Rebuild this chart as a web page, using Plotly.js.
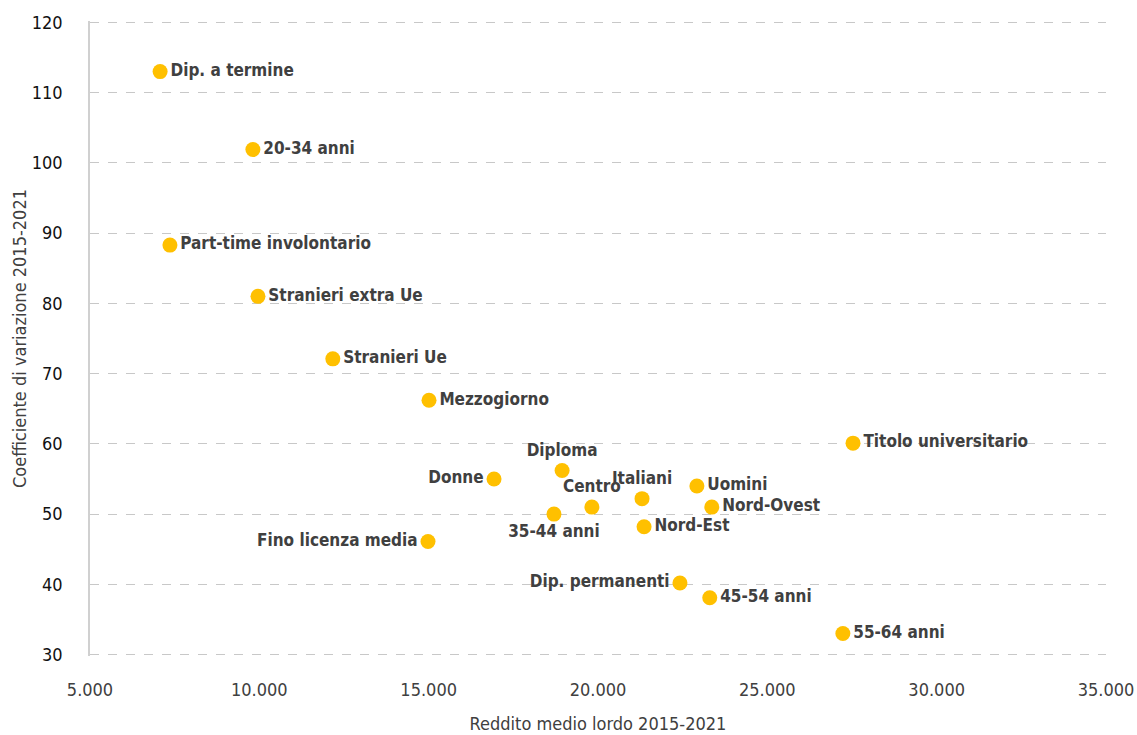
<!DOCTYPE html>
<html>
<head>
<meta charset="utf-8">
<script src="https://cdn.plot.ly/plotly-3.0.1.min.js"></script>
<style>html,body{margin:0;padding:0;background:#fff}#chart{width:1137px;height:735px}</style>
</head>
<body>
<div id="chart"></div>
<script>
const labels = ["Dip. a termine","20-34 anni","Part-time involontario","Stranieri extra Ue","Stranieri Ue","Mezzogiorno","Titolo universitario","Diploma","Donne","Italiani","Uomini","Centro","Nord-Ovest","35-44 anni","Nord-Est","Fino licenza media","Dip. permanenti","45-54 anni","55-64 anni"];
const reddito = [7070,9810,7360,9960,12170,15010,27530,18940,16930,21300,22920,19820,23360,18700,21360,14980,22420,23300,27230];
const coefficiente = [113.0,101.9,88.3,81.0,72.1,66.2,60.1,56.2,55.0,52.2,54.0,51.0,51.0,50.0,48.2,46.1,40.2,38.1,33.0];
const labelPos = ["middle right","middle right","middle right","middle right","middle right","middle right","middle right","top center","middle left","top center","middle right","top center","middle right","bottom center","middle right","middle left","middle left","middle right","middle right"];
const xTicks = [5000,10000,15000,20000,25000,30000,35000];
const xTickText = ["5.000","10.000","15.000","20.000","25.000","30.000","35.000"];

const FONT = '"DejaVu Sans Condensed", "Roboto", sans-serif';

Plotly.newPlot('chart', [{
  type: 'scatter',
  mode: 'markers+text',
  x: reddito,
  y: coefficiente,
  text: labels,
  textposition: labelPos,
  textfont: {family: FONT, size: 17, color: '#404040', weight: 'bold'},
  marker: {size: 15, color: '#FFC000'},
  cliponaxis: false,
  hoverinfo: 'x+y+text'
}], {
  width: 1137, height: 735,
  margin: {l: 90, r: 31, t: 21, b: 79},
  paper_bgcolor: '#fff', plot_bgcolor: '#fff',
  showlegend: false,
  font: {family: FONT, color: '#404040', size: 17},
  xaxis: {
    range: [5000, 35000],
    tickvals: xTicks, ticktext: xTickText,
    showgrid: false, zeroline: false,
    showline: false, ticks: '',
    ticklabelstandoff: 21,
    tickfont: {family: FONT, size: 18, color: '#404040'},
    title: {text: 'Reddito medio lordo 2015-2021', font: {family: FONT, size: 18, color: '#404040'}, standoff: 18}
  },
  yaxis: {
    range: [29.8, 120.2], dtick: 10, tick0: 0,
    showgrid: true, gridcolor: '#c8c8c8', griddash: 'dash', gridwidth: 1,
    zeroline: false,
    showline: true, linecolor: '#d0d0d0', linewidth: 1.5,
    ticks: '', ticklen: 0,
    ticklabelstandoff: 22,
    tickfont: {family: FONT, size: 18, color: '#111'},
    title: {text: 'Coefficiente di variazione 2015-2021', font: {family: FONT, size: 18, color: '#404040'}, standoff: 0}
  }
}, {displayModeBar: false});
</script>
</body>
</html>
